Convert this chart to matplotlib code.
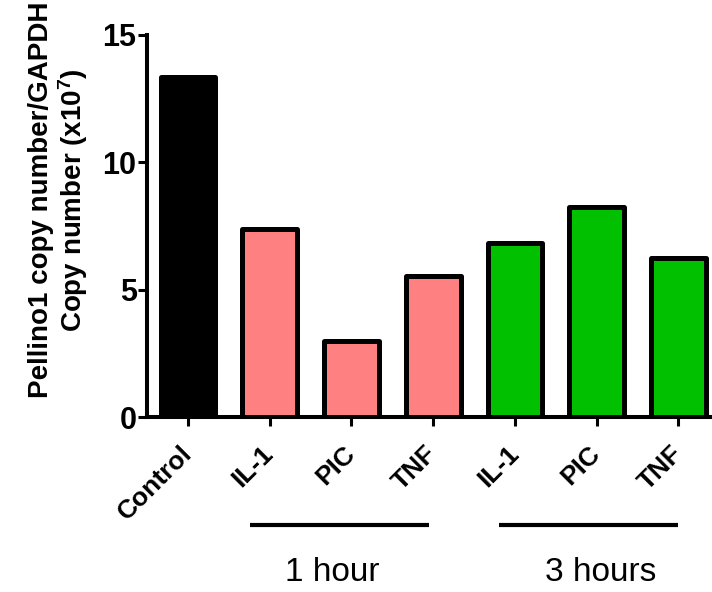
import matplotlib
matplotlib.use("Agg")
import matplotlib.pyplot as plt
import matplotlib.transforms as mtransforms
import numpy as np

plt.rcParams['font.family'] = ['Liberation Sans', 'DejaVu Sans']
plt.rcParams['mathtext.fontset'] = 'custom'
plt.rcParams['mathtext.rm'] = 'Liberation Sans:bold'
plt.rcParams['mathtext.bf'] = 'Liberation Sans:bold'
plt.rcParams['mathtext.default'] = 'bf'

# Pellino1 expression per treatment (x10^7 copies / GAPDH)
categories = ['Control', 'IL-1', 'PIC', 'TNF', 'IL-1', 'PIC', 'TNF']
values = [13.36, 7.37, 2.97, 5.55, 6.83, 8.24, 6.23]
colors = ['#000000', '#FF8080', '#FF8080', '#FF8080', '#00C000', '#00C000', '#00C000']
groups = ['1 hour', '3 hours']
group_spans = [(0.76, 2.95), (3.81, 6.0)]
group_label_x = [1.76, 5.05]
y_ticks = [0, 5, 10, 15]

fig = plt.figure(figsize=(7.12, 5.92), dpi=100)
ax = fig.add_axes([0.2065, 0.2956, 0.7935, 0.6453])

x = np.arange(len(categories))
bars = ax.bar(x, values, width=0.67, color=colors, edgecolor='black',
              linewidth=3.6, zorder=3)
for b in bars:
    b.set_joinstyle('round')

ax.set_xlim(-0.5, 6.41)
ax.set_ylim(0, 15)
ax.set_yticks(y_ticks)
ax.set_yticklabels([str(t) for t in y_ticks], fontsize=22, fontweight='bold')
ax.set_xticks(x)
ax.set_xticklabels(categories, fontsize=19, fontweight='bold',
                   rotation=45, ha='right', va='center',
                   rotation_mode='anchor')

# nudge the slanted labels a little to the left
shift = mtransforms.ScaledTranslation(-5 / 100, 0, fig.dpi_scale_trans)
for lbl in ax.get_xticklabels():
    lbl.set_transform(lbl.get_transform() + shift)

for side in ['top', 'right']:
    ax.spines[side].set_visible(False)
for side in ['left', 'bottom']:
    ax.spines[side].set_linewidth(2.9)
ax.tick_params(axis='both', width=2.2, length=6.5)
ax.tick_params(axis='x', pad=17)
ax.tick_params(axis='y', pad=1)

# group bars under the tick labels
for name, (x0, x1), tx in zip(groups, group_spans, group_label_x):
    ax.plot([x0, x1], [-4.24, -4.24], color='black', linewidth=3,
            clip_on=False, solid_capstyle='butt')
    ax.text(tx, -6.12, name, ha='center', va='center', fontsize=24)

fig.text(59 / 712, 1 - 200 / 592,
         'Pellino1 copy number/GAPDH\nCopy number (x10$^7$)',
         rotation=90, ha='center', va='center', fontsize=20,
         fontweight='bold', multialignment='center', linespacing=1.1)

fig.savefig('out.png', dpi=100)
